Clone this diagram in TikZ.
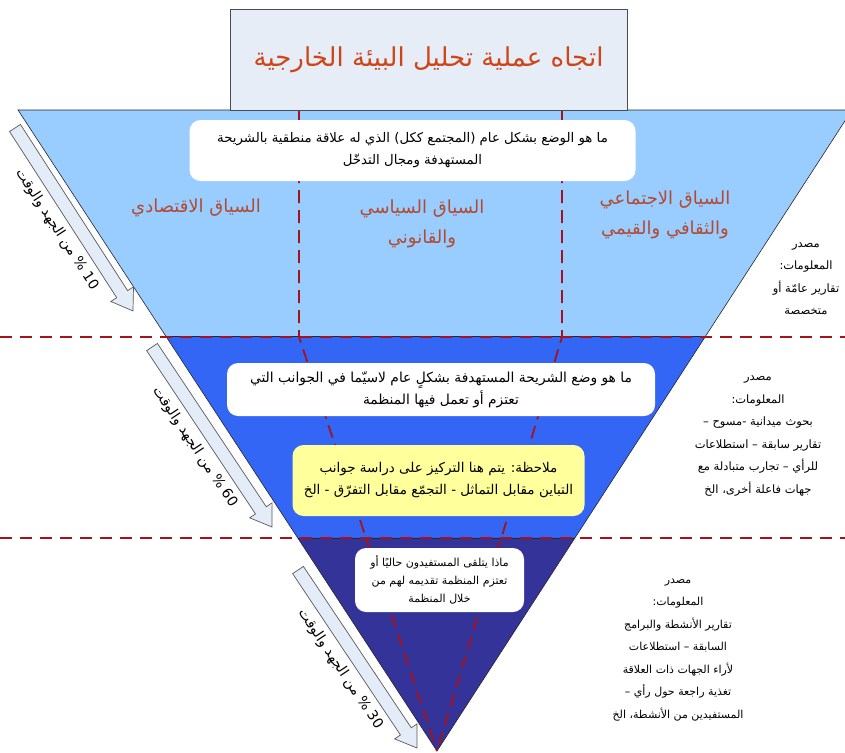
\documentclass[tikz,border=0pt]{standalone}
\usepackage{fontspec}
\newfontfamily\arabicfont[Script=Arabic]{DejaVu Sans}
\TeXXeTstate=1
\usetikzlibrary{calc}

% one right-to-left line of Arabic text
\newcommand\rl[1]{\beginR #1\endR}

\definecolor{bandtop}{RGB}{153,204,255}
\definecolor{bandmid}{RGB}{51,102,245}
\definecolor{bandlow}{RGB}{51,51,153}
\definecolor{titlefill}{RGB}{230,237,247}
\definecolor{titletext}{RGB}{206,70,24}
\definecolor{ctxtext}{RGB}{178,74,48}
\definecolor{guidered}{RGB}{165,18,28}
\definecolor{notefill}{RGB}{255,255,155}
\definecolor{arrowfill}{RGB}{228,236,247}

\begin{document}
\begin{tikzpicture}[x=1pt,y=-1pt,
  every node/.style={font=\arabicfont},
  bandedge/.style={draw=black!85, line width=0.6pt},
  vguide/.style={draw=guidered, line width=1.8pt, dash pattern=on 13pt off 7pt},
  hguide/.style={draw=guidered, line width=1.6pt, dash pattern=on 12pt off 8pt},
  titlebox/.style={draw=black!70, line width=0.8pt, fill=titlefill, text=titletext,
    font=\arabicfont\fontsize{26}{30}\selectfont, inner sep=0pt},
  infobox/.style={fill=white, rounded corners=11pt, align=center, inner sep=0pt,
    font=\arabicfont\fontsize{13.3}{22}\selectfont},
  notebox/.style={infobox, fill=notefill, font=\arabicfont\fontsize{13.5}{22}\selectfont},
  ctxlabel/.style={text=ctxtext, align=center, font=\arabicfont\fontsize{18}{30}\selectfont},
  sourcetext/.style={align=center, font=\arabicfont\fontsize{11.5}{22.5}\selectfont},
  arrowbody/.style={draw=black!65, line width=0.7pt, fill=arrowfill},
  efforttext/.style={font=\arabicfont\fontsize{14}{16}\selectfont, inner sep=0pt}
]
\useasboundingbox (0,0) rectangle (845,752);
\clip (0,0) rectangle (845,752);

% corners of the inverted triangle and the band limits on its sides
\coordinate (tl) at (18,110);
\coordinate (tr) at (852,110);
\coordinate (apex) at (437,751);
\coordinate (l1) at ($(tl)!0.3526!(apex)$);
\coordinate (r1) at ($(tr)!0.3526!(apex)$);
\coordinate (l2) at ($(tl)!0.6677!(apex)$);
\coordinate (r2) at ($(tr)!0.6677!(apex)$);

% the three bands
\fill[bandtop] (tl) -- (tr) -- (r1) -- (l1) -- cycle;
\fill[bandmid] (l1) -- (r1) -- (r2) -- (l2) -- cycle;
\fill[bandlow] (l2) -- (r2) -- (apex) -- cycle;
\draw[bandedge] (tl) -- (tr) -- (apex) -- cycle;
\draw[bandedge] (l1) -- (r1);
\draw[bandedge] (l2) -- (r2);

% dashed guides: the three context columns and the level separators
\coordinate (gl0) at (299,110);
\coordinate (gl1) at (299,337);
\coordinate (gr0) at (562,110);
\coordinate (gr1) at (562,337);
\draw[vguide] (gl0) -- (gl1) -- (apex);
\draw[vguide] (gr0) -- (gr1) -- (apex);
\coordinate (h1a) at (0,337);
\coordinate (h1b) at (845,337);
\coordinate (h2a) at (0,538);
\coordinate (h2b) at (845,538);
\draw[hguide] (h1a) -- (h1b);
\draw[hguide] (h2a) -- (h2b);

% heading
\node[titlebox, minimum width=397pt, minimum height=101pt] (title) at (428.5,59.5)
  {\rl{اتجاه عملية تحليل البيئة الخارجية}};

% question boxes
\node[infobox, minimum width=446pt, minimum height=61pt] (q1) at (412.5,150.5)
  {\rl{ما هو الوضع بشكل عام (المجتمع ككل) الذي له علاقة منطقية بالشريحة}\\
   \rl{المستهدفة ومجال التدخّل}};
\node[infobox, minimum width=428pt, minimum height=53pt,
      font=\arabicfont\fontsize{13.8}{22}\selectfont] (q2) at (441,389.5)
  {\rl{ما هو وضع الشريحة المستهدفة بشكلٍ عام لاسيّما في الجوانب التي}\\
   \rl{تعتزم أو تعمل فيها المنظمة}};
\node[notebox, minimum width=292pt, minimum height=71pt] (note) at (438.5,480.5)
  {\rl{ملاحظة: يتم هنا التركيز على دراسة جوانب}\\
   \rl{التباين مقابل التماثل - التجمّع مقابل التفرّق - الخ}};
\node[infobox, minimum width=169pt, minimum height=64pt,
      font=\arabicfont\fontsize{11}{18}\selectfont] (q3) at (439.5,580)
  {\rl{ماذا يتلقى المستفيدون حاليًا أو}\\
   \rl{تعتزم المنظمة تقديمه لهم من}\\
   \rl{خلال المنظمة}};

% context columns
\node[ctxlabel] (econ) at (196,208) {\rl{السياق الاقتصادي}};
\node[ctxlabel] (pol) at (422,224) {\rl{السياق السياسي}\\\rl{والقانوني}};
\node[ctxlabel] (soc) at (665,215) {\rl{السياق الاجتماعي}\\\rl{والثقافي والقيمي}};

% information sources
\node[sourcetext] (src1) at (806,279)
  {\rl{مصدر}\\\rl{المعلومات:}\\\rl{تقارير عامّة أو}\\\rl{متخصصة}};
\node[sourcetext] (src2) at (758,436)
  {\rl{مصدر}\\\rl{المعلومات:}\\\rl{بحوث ميدانية -مسوح –}\\
   \rl{تقارير سابقة – استطلاعات}\\\rl{للرأي – تجارب متبادلة مع}\\
   \rl{جهات فاعلة أخرى، الخ}};
\node[sourcetext, font=\arabicfont\fontsize{11}{22.5}\selectfont] (src3) at (678,650)
  {\rl{مصدر}\\\rl{المعلومات:}\\\rl{تقارير الأنشطة والبرامج}\\
   \rl{السابقة – استطلاعات}\\\rl{لأراء الجهات ذات العلاقة}\\
   \rl{تغذية راجعة حول رأي –}\\\rl{المستفيدين من الأنشطة، الخ}};

% effort arrows along the left side
\coordinate (e1tail) at (15,128);
\coordinate (e2tail) at (152,347);
\coordinate (e3tail) at (298,570);
\begin{scope}[shift={(e1tail)}, rotate=-57.18]
  \filldraw[arrowbody] (0,-6.5) -- (197.7,-6.5) -- (197.7,-13.5) -- (217.7,0)
    -- (197.7,13.5) -- (197.7,6.5) -- (0,6.5) -- cycle;
  \node[efforttext, transform shape] (e1) at (108,20)
    {\rl{\beginL 10\endL{} \% من الجهد والوقت}};
\end{scope}
\begin{scope}[shift={(e2tail)}, rotate=-56.31]
  \filldraw[arrowbody] (0,-6.5) -- (196.3,-6.5) -- (196.3,-13.5) -- (216.3,0)
    -- (196.3,13.5) -- (196.3,6.5) -- (0,6.5) -- cycle;
  \node[efforttext, transform shape] (e2) at (107,20)
    {\rl{\beginL 60\endL{} \% من الجهد والوقت}};
\end{scope}
\begin{scope}[shift={(e3tail)}, rotate=-56.24]
  \filldraw[arrowbody] (0,-6.5) -- (194.1,-6.5) -- (194.1,-13.5) -- (214.1,0)
    -- (194.1,13.5) -- (194.1,6.5) -- (0,6.5) -- cycle;
  \node[efforttext, transform shape] (e3) at (106,20)
    {\rl{\beginL 30\endL{} \% من الجهد والوقت}};
\end{scope}
\end{tikzpicture}
\end{document}
